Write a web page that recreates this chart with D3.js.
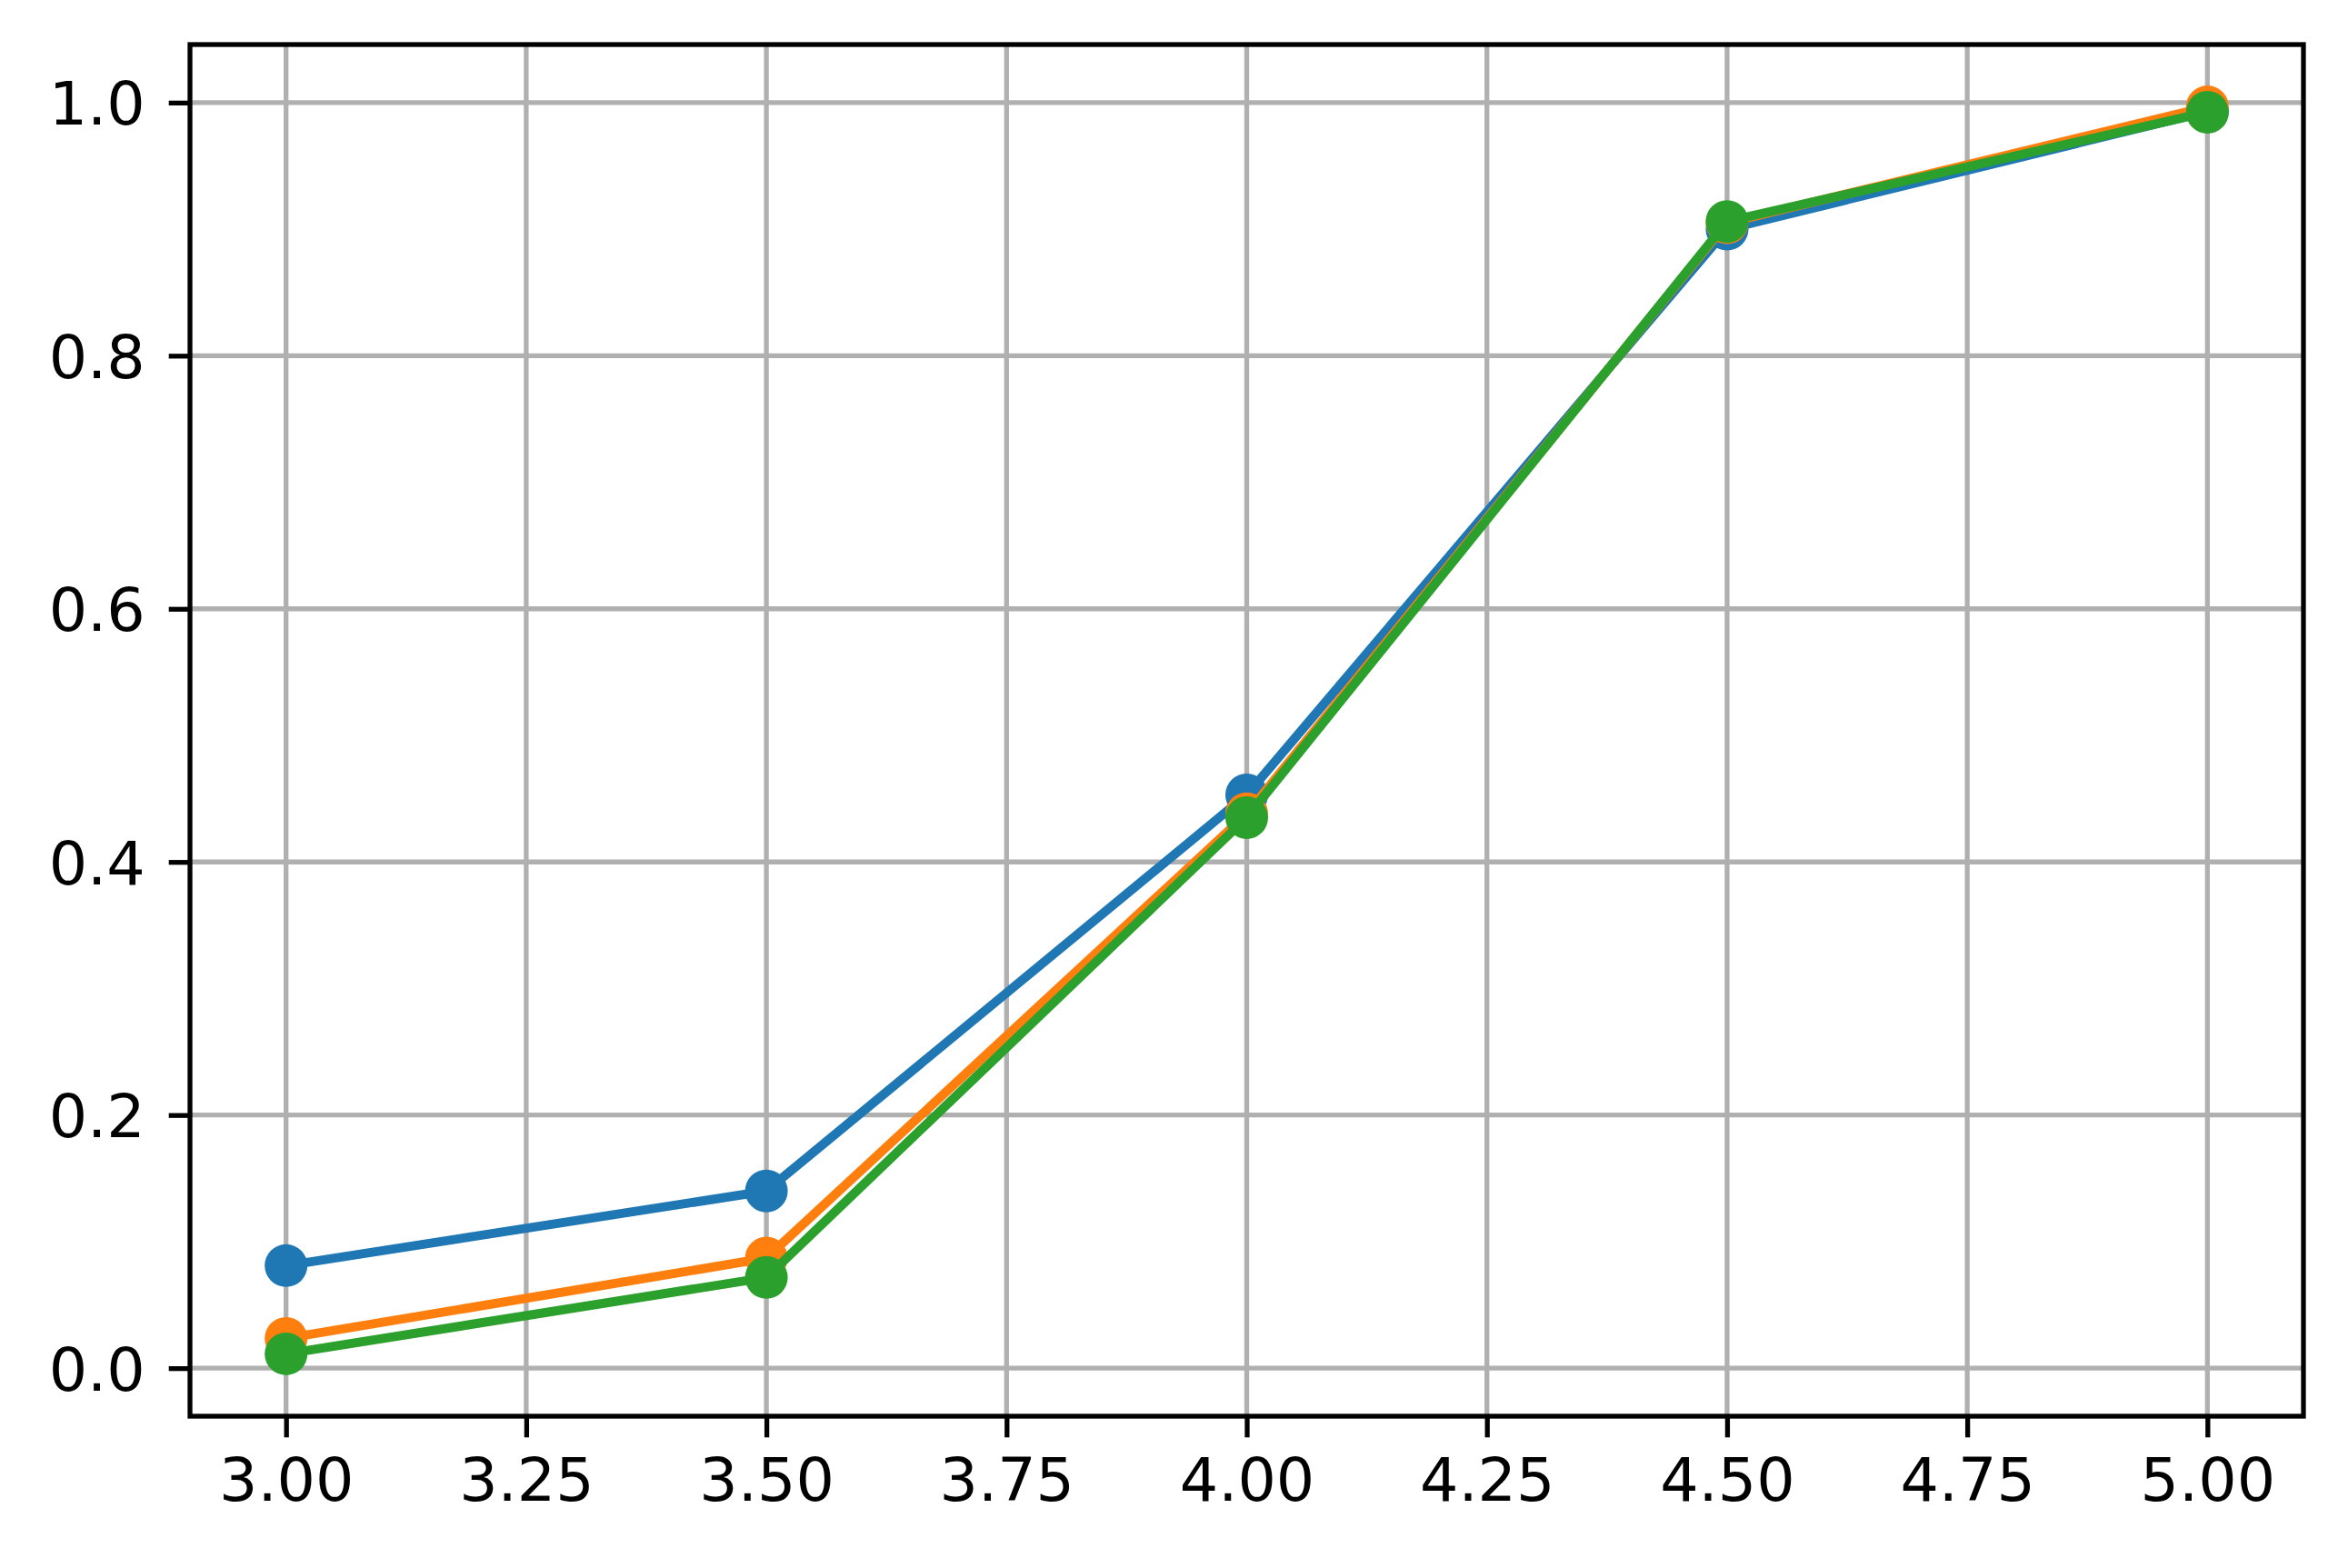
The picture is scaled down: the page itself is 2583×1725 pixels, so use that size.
<!DOCTYPE html>
<html>
<head>
<meta charset="utf-8">
<script src="https://cdn.jsdelivr.net/npm/d3@7"></script>
<style>
  html, body { margin: 0; padding: 0; background: #fff; }
  svg { display: block; }
  text { font-family: "DejaVu Sans", sans-serif; fill: #000; }
</style>
</head>
<body>
<script>
const xValues = [3.0, 3.5, 4.0, 4.5, 5.0];
const seriesBlue = [0.081, 0.140, 0.453, 0.900, 0.993];
const seriesOrange = [0.0235, 0.087, 0.438, 0.905, 0.9966];
const seriesGreen = [0.0113, 0.0717, 0.435, 0.906, 0.9924];
const seriesColors = ["#1f77b4", "#ff7f0e", "#2ca02c"];
const xTicks = [3.0, 3.25, 3.5, 3.75, 4.0, 4.25, 4.5, 4.75, 5.0];
const yTicks = [0.0, 0.2, 0.4, 0.6, 0.8, 1.0];

(function () {
const W = 2583, H = 1725;
const pLeft = 209, pRight = 2534, pTop = 49, pBottom = 1558;
const fontPx = 66.7;

const series = [seriesBlue, seriesOrange, seriesGreen];
const allY = series.flat();
const xmin = d3.min(xValues), xmax = d3.max(xValues);
const ymin = d3.min(allY), ymax = d3.max(allY);
const xpad = (xmax - xmin) * 0.05, ypad = (ymax - ymin) * 0.05;

const x = d3.scaleLinear().domain([xmin - xpad, xmax + xpad]).range([pLeft, pRight]);
const y = d3.scaleLinear().domain([ymin - ypad, ymax + ypad]).range([pBottom, pTop]);

const svg = d3.select("body").append("svg").attr("width", W).attr("height", H);

// grid
const grid = svg.append("g");
grid.selectAll("line.vx").data(xTicks).enter().append("line")
  .attr("x1", d => x(d)).attr("x2", d => x(d)).attr("y1", pTop).attr("y2", pBottom)
  .attr("stroke", "#b0b0b0").attr("stroke-width", 5.3);
grid.selectAll("line.hy").data(yTicks).enter().append("line")
  .attr("y1", d => y(d)).attr("y2", d => y(d)).attr("x1", pLeft).attr("x2", pRight)
  .attr("stroke", "#b0b0b0").attr("stroke-width", 5.3);

// series
const line = d3.line().x((d, i) => x(xValues[i])).y(d => y(d));
series.forEach((s, k) => {
  const g = svg.append("g");
  g.append("path").datum(s).attr("d", line).attr("fill", "none")
    .attr("stroke", seriesColors[k]).attr("stroke-width", 10)
    .attr("stroke-linejoin", "round").attr("stroke-linecap", "butt");
  g.selectAll("circle").data(s).enter().append("circle")
    .attr("cx", (d, i) => x(xValues[i])).attr("cy", d => y(d)).attr("r", 23.5)
    .attr("fill", seriesColors[k]);
});

// axes
const xAxis = d3.axisBottom(x).tickValues(xTicks).tickFormat(d3.format(".2f"))
  .tickSize(23.3).tickPadding(22);
const yAxis = d3.axisLeft(y).tickValues(yTicks).tickFormat(d3.format(".1f"))
  .tickSize(23.3).tickPadding(26);

const gx = svg.append("g").attr("transform", `translate(0,${pBottom})`).call(xAxis);
const gy = svg.append("g").attr("transform", `translate(${pLeft},0)`).call(yAxis);
[gx, gy].forEach(g => {
  g.select(".domain").remove();
  g.selectAll(".tick line").attr("stroke", "#000").attr("stroke-width", 5.3);
  g.selectAll(".tick text").attr("font-size", fontPx).attr("font-family", "DejaVu Sans").attr("fill", "#000");
});
gx.selectAll(".tick text").attr("dy", "0.71em");
gy.selectAll(".tick text").attr("dy", "0.36em");

// spines
svg.append("rect").attr("x", pLeft).attr("y", pTop).attr("width", pRight - pLeft).attr("height", pBottom - pTop)
  .attr("fill", "none").attr("stroke", "#000").attr("stroke-width", 5.3).attr("stroke-linejoin", "miter");
})();
</script>
</body>
</html>
